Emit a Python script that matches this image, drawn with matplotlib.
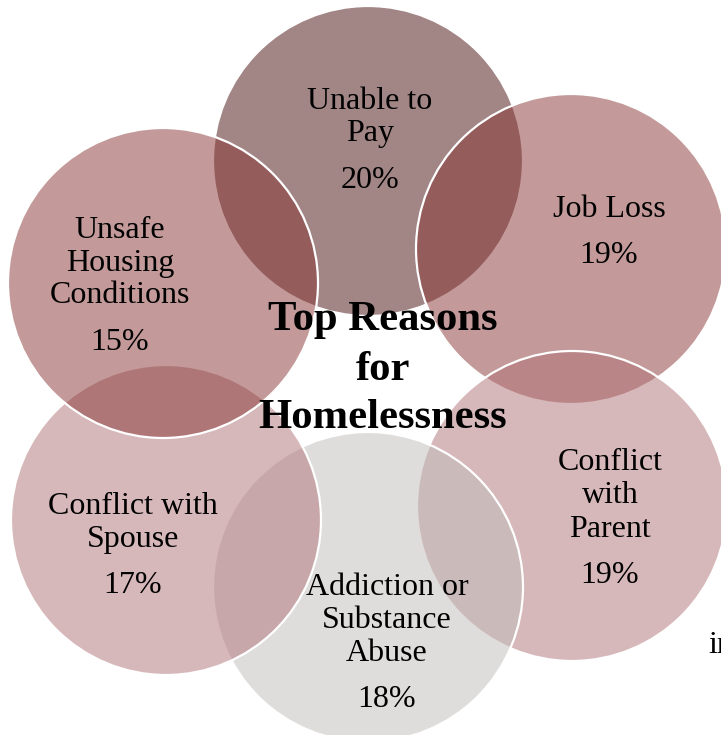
import matplotlib
matplotlib.use("Agg")
import matplotlib.pyplot as plt
from matplotlib.patches import Circle

# ---- data -------------------------------------------------------------
reasons = [
    ["Unable to", "Pay"],
    ["Job Loss"],
    ["Conflict", "with", "Parent"],
    ["Addiction or", "Substance", "Abuse"],
    ["Conflict with", "Spouse"],
    ["Unsafe", "Housing", "Conditions"],
]
shares = [20, 19, 19, 18, 17, 15]
title_lines = ["Top Reasons", "for", "Homelessness"]

# ---- layout (pixel space, y grows downward) ---------------------------
W, H = 721, 735
centers = [(368, 161), (571, 249), (572, 506), (368, 587), (166, 520), (163, 283)]
radius = 155
fills = ["#470d0d", "#893535", "#b17377", "#c1bdbb", "#b17377", "#893535"]
fill_alpha = 0.5

# text anchor x and baselines for each label line, then the percentage
label_x = [370, 609, 610, 387, 133, 120]
line_baselines = [
    [109, 141],
    [217],
    [470, 503, 537],
    [595, 628, 661],
    [514, 547],
    [238, 271, 303],
]
pct_baselines = [188, 263, 583, 707, 593, 350]

title_x = 383
title_baselines = [330, 380, 428]

serif = "Liberation Serif"

fig = plt.figure(figsize=(W / 100, H / 100), dpi=100)
ax = fig.add_axes([0, 0, 1, 1])
ax.set_xlim(0, W)
ax.set_ylim(H, 0)
ax.set_aspect("equal")
ax.axis("off")

for (cx, cy), col in zip(centers, fills):
    rgba = matplotlib.colors.to_rgba(col, fill_alpha)
    ax.add_patch(Circle((cx, cy), radius, facecolor=rgba,
                        edgecolor="white", linewidth=1.6))

for lines, x, ys, pct, py in zip(reasons, label_x, line_baselines,
                                  shares, pct_baselines):
    for txt, y in zip(lines, ys):
        ax.text(x, y, txt, ha="center", va="baseline", fontsize=23,
                family=serif, color="black")
    ax.text(x, py, f"{pct}%", ha="center", va="baseline", fontsize=23,
            family=serif, color="black")

for txt, y in zip(title_lines, title_baselines):
    ax.text(title_x, y, txt, ha="center", va="baseline", fontsize=30.7,
            family=serif, fontweight="bold", color="black")

# start of a caption running off the right edge
ax.text(708, 653, "in", ha="left", va="baseline", fontsize=23,
        family=serif, color="black")

fig.savefig("out.png", dpi=100)
